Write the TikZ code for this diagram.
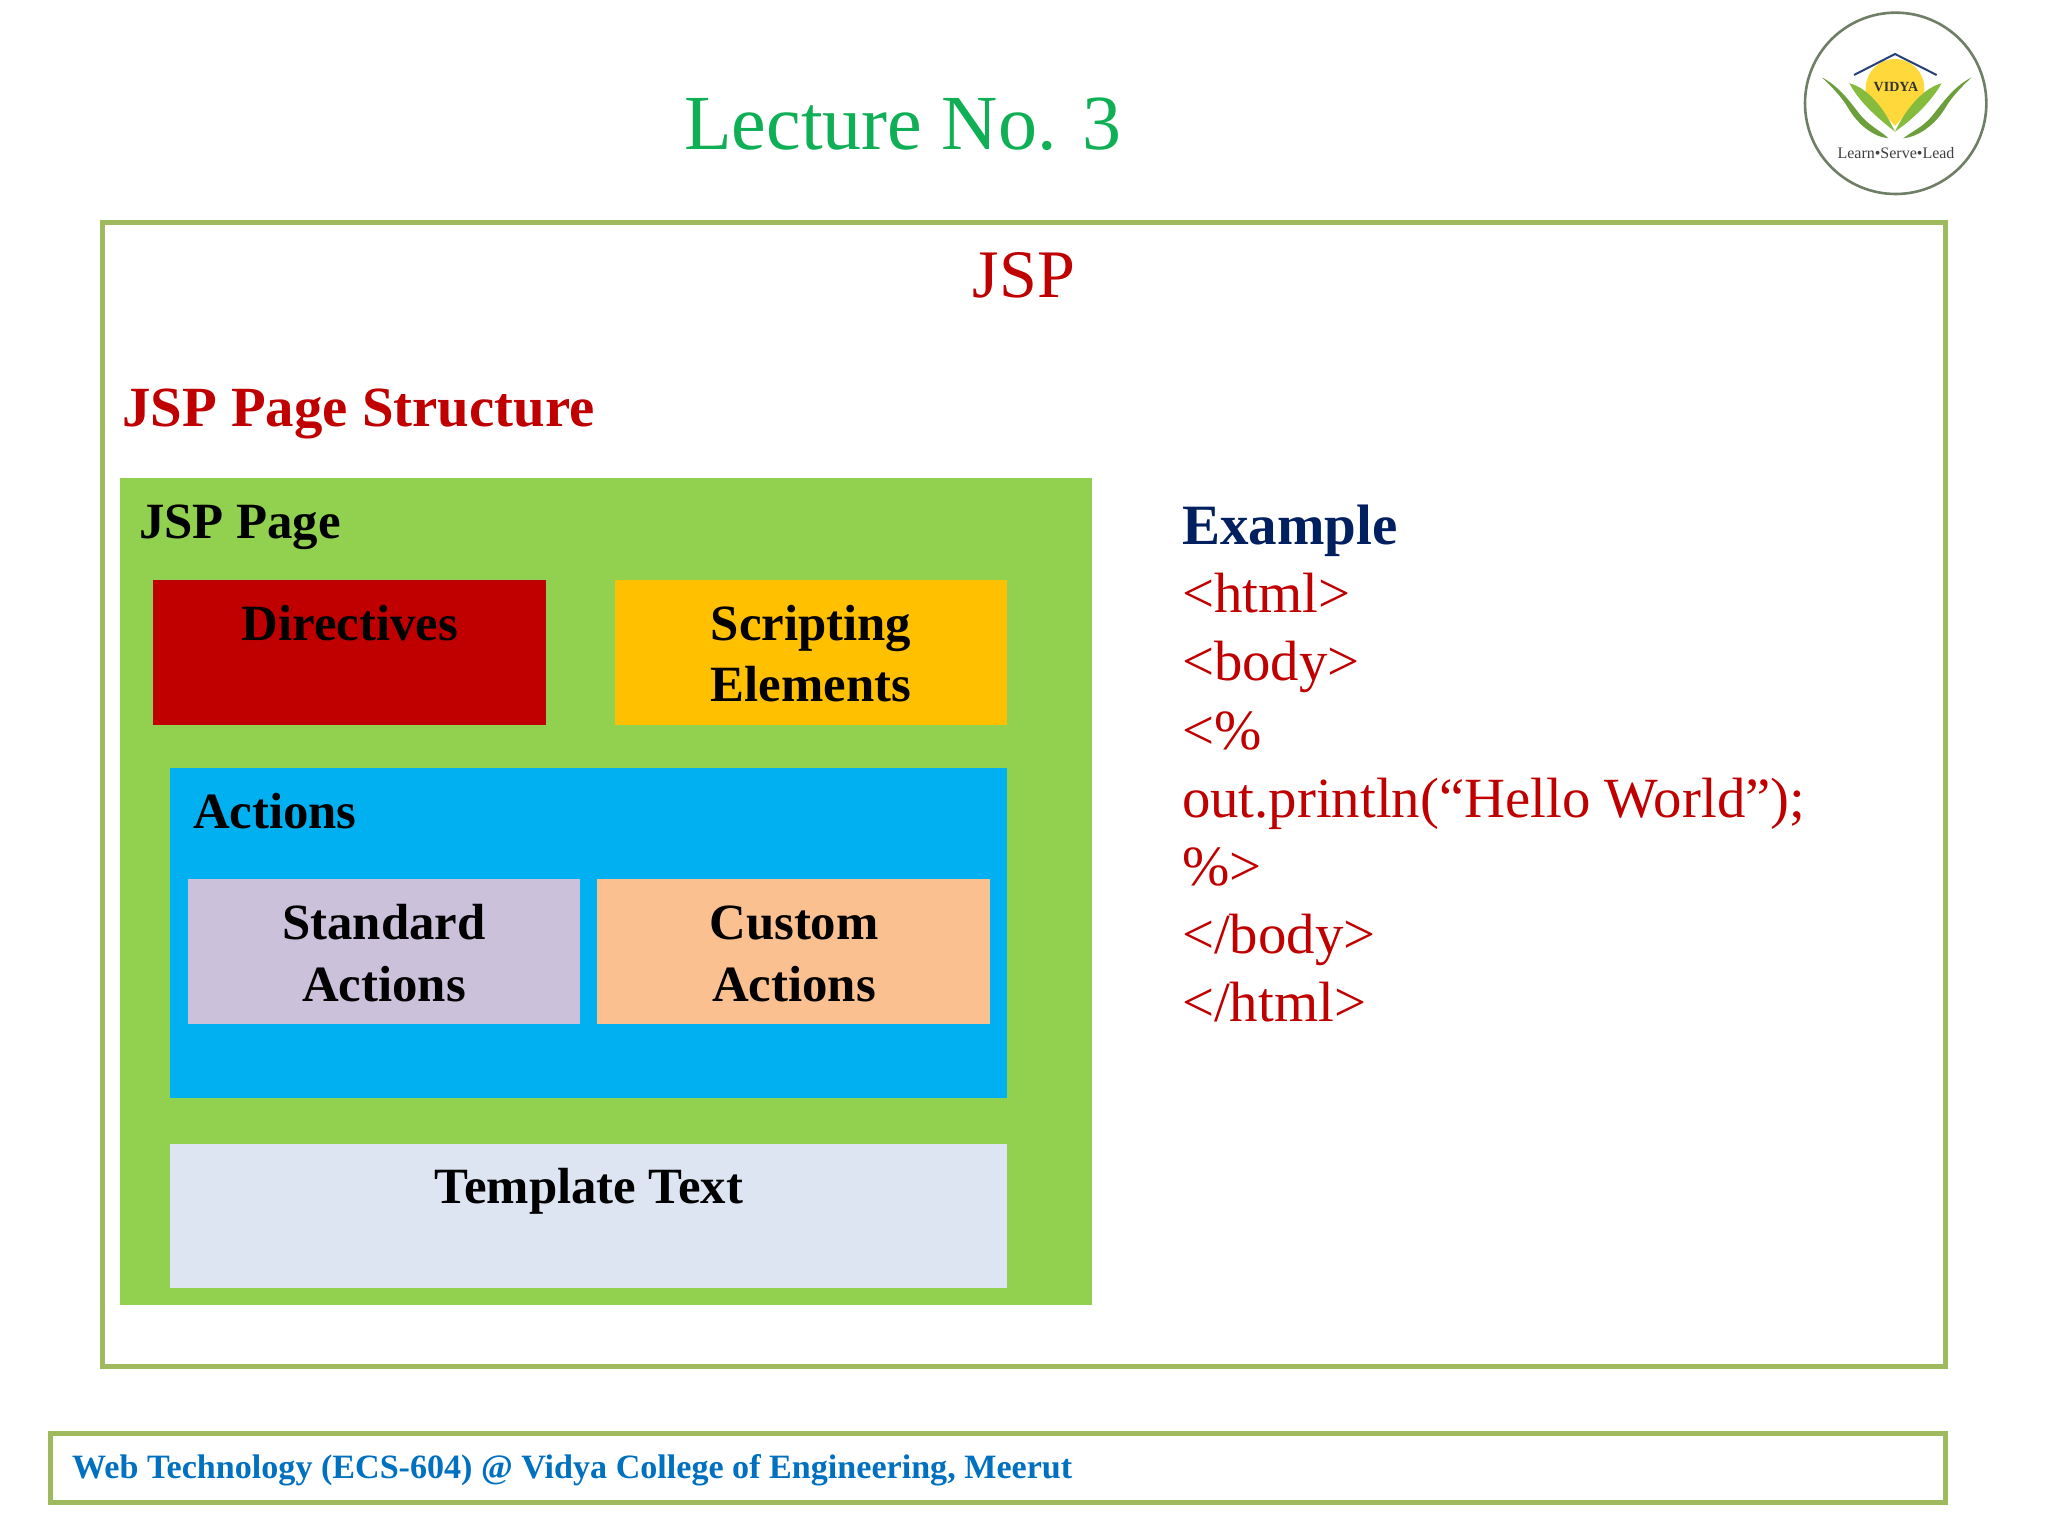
\documentclass[tikz,border=0pt]{standalone}
\usepackage{fontspec}
\setmainfont{Liberation Serif}
\definecolor{frameG}{HTML}{9FBA5E}
\definecolor{titleG}{HTML}{0FAF55}
\definecolor{darkR}{HTML}{C00000}
\definecolor{pageG}{HTML}{92D050}
\definecolor{ambr}{HTML}{FFC000}
\definecolor{skyB}{HTML}{00B0F0}
\definecolor{lilac}{HTML}{CCC1DA}
\definecolor{peach}{HTML}{FAC090}
\definecolor{paleB}{HTML}{DEE5F2}
\definecolor{navyT}{HTML}{002060}
\definecolor{footB}{HTML}{0070C0}
\definecolor{leafA}{HTML}{6C9E3C}
\definecolor{leafB}{HTML}{85BC3E}
\definecolor{sunY}{HTML}{FFD93B}
\definecolor{ringG}{HTML}{6F7F66}
\newcommand{\fs}[1]{\fontsize{#1}{#1}\selectfont}
\tikzset{
  x=1pt,y=-1pt,
  panel/.style={draw=frameG,line width=5pt,fill=white,minimum width=#1,inner sep=0pt,outer sep=0pt,anchor=north west},
  block/.style={inner sep=0pt,outer sep=0pt,anchor=north west},
  lbl/.style={inner sep=0pt,outer sep=0pt,anchor=base,font=\fs{50.8}\bfseries},
  lbll/.style={lbl,anchor=base west},
  codeline/.style={inner sep=0pt,outer sep=0pt,anchor=base west,text=darkR,font=\fs{56.8}}
}
\begin{document}
\begin{tikzpicture}
\useasboundingbox (0,0) rectangle (2048,1536);
\fill[white] (0,0) rectangle (2048,1536);
% frames
\node[panel=1843pt,minimum height=1144pt] (outer) at (102,222) {};
\node[panel=1895pt,minimum height=69pt] (foot) at (50,1433) {};
% titles
\node[inner sep=0pt,anchor=base,text=titleG,font=\fs{78}] (title) at (903,149.5) {Lecture No. 3};
\node[inner sep=0pt,anchor=base,text=darkR,font=\fs{68}] (jsp) at (1024,297) {JSP};
\node[inner sep=0pt,anchor=base west,text=darkR,font=\fs{56.8}\bfseries] (struct) at (122,426) {JSP Page Structure};
% blocks
\node[block,fill=pageG,minimum width=972pt,minimum height=827pt] (page) at (120,478) {};
\node[block,fill=darkR,minimum width=393pt,minimum height=145pt] (dir) at (153,580) {};
\node[block,fill=ambr,minimum width=392pt,minimum height=145pt] (scr) at (615,580) {};
\node[block,fill=skyB,minimum width=837pt,minimum height=330pt] (act) at (170,768) {};
\node[block,fill=lilac,minimum width=392pt,minimum height=145pt] (std) at (188,879) {};
\node[block,fill=peach,minimum width=393pt,minimum height=145pt] (cus) at (597,879) {};
\node[block,fill=paleB,minimum width=837pt,minimum height=144pt] (tpl) at (170,1144) {};
% block labels
\node[lbll] (tpage) at (139,538) {JSP Page};
\node[lbl] (tdir) at (350,640) {Directives};
\node[lbl] (tscr1) at (811,640) {Scripting};
\node[lbl] (tscr2) at (811,701) {Elements};
\node[lbll] (tact) at (193,828) {Actions};
\node[lbl] (tstd1) at (384,939) {Standard};
\node[lbl] (tstd2) at (384,1001) {Actions};
\node[lbl] (tcus1) at (794,939) {Custom};
\node[lbl] (tcus2) at (794,1001) {Actions};
\node[lbl] (ttpl) at (589,1203) {Template Text};
% example
\node[inner sep=0pt,anchor=base west,text=navyT,font=\fs{57}\bfseries] (ex) at (1182,544) {Example};
\node[codeline] (c1) at (1182,612) {<html>};
\node[codeline] (c2) at (1182,680) {<body>};
\node[codeline] (c3) at (1182,749) {<\%};
\node[codeline] (c4) at (1182,817) {out.println(“Hello World”);};
\node[codeline] (c5) at (1182,885) {\%>};
\node[codeline] (c6) at (1182,953) {</body>};
\node[codeline] (c7) at (1182,1021) {</html>};
% footer text
\node[inner sep=0pt,anchor=base west,text=footB,font=\fs{34.1}\bfseries] (ftxt) at (72,1478) {Web Technology (ECS-604) @ Vidya College of Engineering, Meerut};
% logo
\begin{scope}[shift={(1780,0)},scale=0.33333]
  \draw[ringG,line width=2.6pt] (347,310) circle [radius=272];
  \fill[sunY] (258.3,280.3) arc [start angle=170,end angle=370,radius=88] -- (345,378) -- cycle;
  \draw[navyT!85!white,line width=2pt] (222,225) -- (345,162) -- (470,225);
  \fill[leafA] (125,232) .. controls (190,265) and (225,330) .. (250,355) .. controls (280,385) and (305,395) .. (325,415) .. controls (280,410) and (235,375) .. (205,325) .. controls (185,290) and (150,255) .. (125,232) -- cycle;
  \fill[leafA] (575,232) .. controls (510,265) and (475,330) .. (445,360) .. controls (420,385) and (395,395) .. (370,415) .. controls (415,410) and (465,375) .. (495,325) .. controls (515,290) and (550,255) .. (575,232) -- cycle;
  \fill[leafB] (208,250) .. controls (260,262) and (310,320) .. (345,395) .. controls (300,360) and (240,310) .. (208,250) -- cycle;
  \fill[leafB] (485,250) .. controls (435,262) and (380,320) .. (345,395) .. controls (395,360) and (450,310) .. (485,250) -- cycle;
  \node[inner sep=0pt,text=black!80,font=\fs{14}\bfseries] (vidya) at (348,260) {VIDYA};
  \node[inner sep=0pt,text=black!75,font=\fs{16}] (motto) at (348,460) {Learn•Serve•Lead};
\end{scope}
\end{tikzpicture}
\end{document}
